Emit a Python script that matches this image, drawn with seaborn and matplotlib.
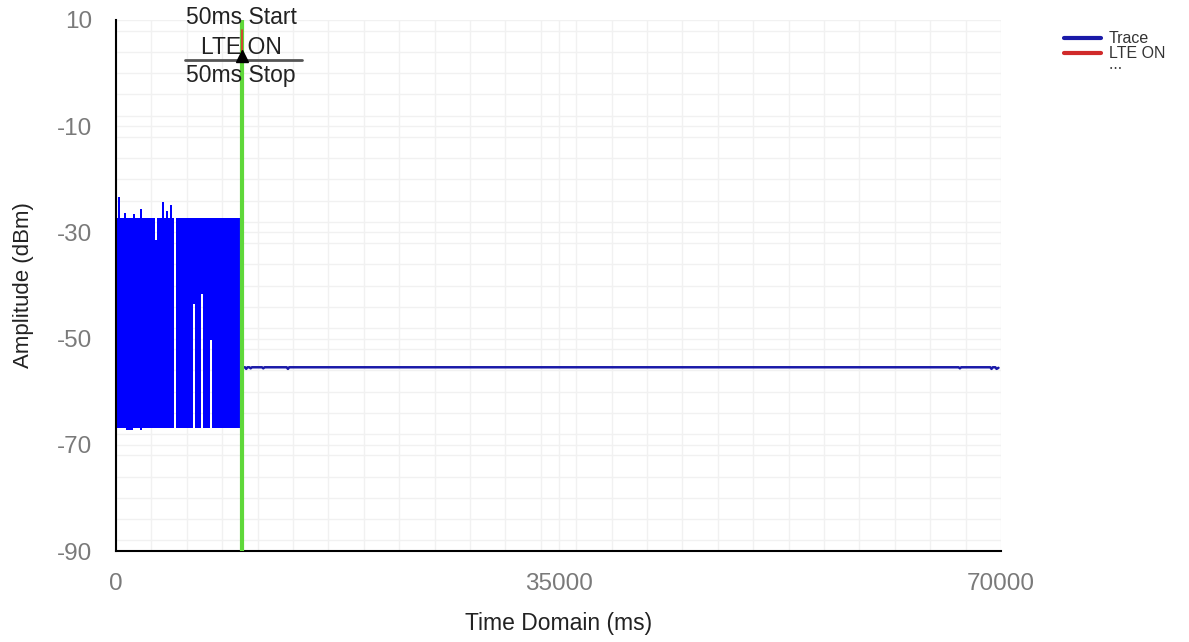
import numpy as np
import pandas as pd
import seaborn as sns
import matplotlib.pyplot as plt
from matplotlib.lines import Line2D
from matplotlib.ticker import MultipleLocator

# dense LTE burst before the marker: upper / lower envelope (step-post)
block_t = [0, 160, 330, 640, 800, 1340, 1500, 1900, 2080, 3080, 3260, 3640, 3820,
           3960, 4120, 4260, 4440, 4600, 4780, 6100, 6260, 6740, 6900, 7440, 7600, 9900]
block_hi = [-27.3, -23.3, -27.3, -26.3, -27.3, -26.5, -27.3, -25.5, -27.3, -31.4, -27.3, -24.3, -27.3,
            -26.0, -27.3, -24.8, -27.3, -27.3, -27.3, -27.3, -27.3, -27.3, -27.3, -27.3, -27.3, -27.3]
block_lo = [-66.8, -66.8, -66.8, -66.8, -67.2, -66.8, -66.8, -67.2, -66.8, -66.8, -66.8, -66.8, -66.8,
            -66.8, -66.8, -66.8, -66.8, -27.3, -66.8, -43.4, -66.8, -41.6, -66.8, -50.3, -66.8, -66.8]

# flat trace after LTE switched off
trace_t = [9950, 10200, 10300, 10400, 10550, 10650, 10750, 11550, 11650, 11750,
           13500, 13600, 13700, 66650, 66750, 66850, 69150, 69250, 69350, 69550, 69650, 69800]
trace_v = [-55.4, -55.4, -55.7, -55.4, -55.4, -55.6, -55.4, -55.4, -55.6, -55.4,
           -55.4, -55.7, -55.4, -55.4, -55.6, -55.4, -55.4, -55.7, -55.4, -55.4, -55.7, -55.5]

marker_t = 10000
x_ticks = [0, 35000, 70000]
y_ticks = [10, -10, -30, -50, -70, -90]

sns.set_theme(style="white")
plt.rcParams['font.family'] = ['Liberation Sans', 'DejaVu Sans']
plt.rcParams['axes.unicode_minus'] = False

fig = plt.figure(figsize=(11.89, 6.42), dpi=100)
ax = fig.add_axes([116/1189, 91/642, 885/1189, 531/642])

ax.fill_between(block_t, block_lo, block_hi, step='post', color='#0000ff', lw=0)
trace = pd.DataFrame({'t': trace_t, 'v': trace_v})
sns.lineplot(data=trace, x='t', y='v', ax=ax, color='#1a1aa8', lw=1.8, estimator=None)

ax.set_xlim(0, 70000)
ax.set_ylim(-90, 10)
ax.set_xticks(x_ticks)
ax.set_yticks(y_ticks)
ax.xaxis.set_minor_locator(MultipleLocator(2800))
ax.yaxis.set_minor_locator(MultipleLocator(4))
ax.grid(which='both', color='#f1f1f1', lw=1)
ax.set_axisbelow(True)
for s in ['top', 'right']:
    ax.spines[s].set_visible(False)
for s in ['left', 'bottom']:
    ax.spines[s].set_color('black')
    ax.spines[s].set_linewidth(1.5)
ax.tick_params(which='major', direction='out', length=7, width=1.5, color='black',
               labelcolor='#7a7a7a', labelsize=17.5)
ax.tick_params(axis='x', pad=9)
ax.tick_params(axis='y', pad=10)
ax.tick_params(which='minor', length=0)
ax.set_xlabel('Time Domain (ms)', fontsize=16.5, color='#222222', labelpad=12)
ax.set_ylabel('Amplitude (dBm)', fontsize=16, color='#222222', labelpad=17)

# marker: green line, red flag, annotation
ax.axvline(marker_t, color='#5fd83a', lw=3, zorder=3)
ax.plot([marker_t, marker_t], [8.1, 3.5], color='#e03030', lw=1.2, zorder=4, clip_on=False)
ax.plot([marker_t], [3.2], marker='^', color='black', ms=8, zorder=5, clip_on=False)
ax.plot([marker_t - 4540, marker_t + 4700], [2.45, 2.45], color='#555555', lw=2, zorder=4, clip_on=False)
ax.text(marker_t - 100, 10.4, '50ms Start', ha='center', va='center', fontsize=16.5, color='#222222', clip_on=False)
ax.text(marker_t - 100, 4.9, 'LTE ON', ha='center', va='center', fontsize=16.5, color='#222222', clip_on=False)
ax.text(marker_t - 100, -0.4, '50ms Stop', ha='center', va='center', fontsize=16.5, color='#222222', clip_on=False)

handles = [Line2D([], [], color='#1a1aa8', lw=3), Line2D([], [], color='#d02a2a', lw=3)]
leg = fig.legend(handles, ['Trace', 'LTE ON'], loc='upper left', bbox_to_anchor=(1050/1189, 1 - 17/642),
                 frameon=False, fontsize=11.5, handlelength=2.3, handletextpad=0.5, labelspacing=0.0)
for t in leg.get_texts():
    t.set_color('#333333')
fig.text(1110/1189, 1 - 68/642, '• • •', fontsize=5, color='#333333', va='center')

fig.savefig('out.png', dpi=100)
